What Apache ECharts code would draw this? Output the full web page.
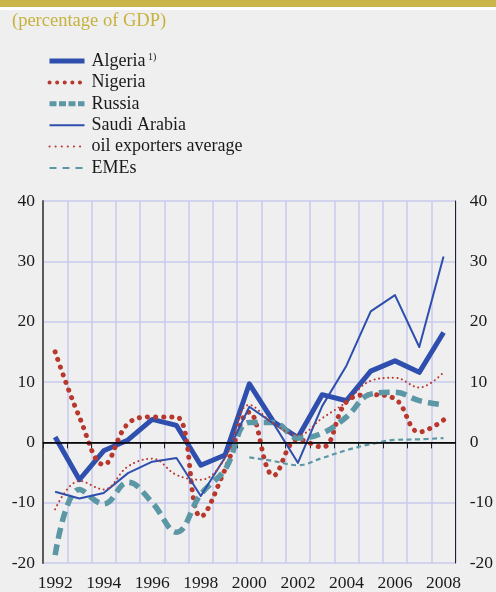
<!DOCTYPE html>
<html>
<head>
<meta charset="utf-8">
<script src="https://cdn.jsdelivr.net/npm/echarts@6/dist/echarts.min.js"></script>
<style>
  html, body { margin: 0; padding: 0; background: #efefef; }
  #chart { width: 496px; height: 592px; }
</style>
</head>
<body>
<div id="chart"></div>
<script>
const years = ['1992', '1993', '1994', '1995', '1996', '1997', '1998', '1999', '2000',
  '2001', '2002', '2003', '2004', '2005', '2006', '2007', '2008']

const algeria = [0.9, -6.2, -1.4, 0.4, 3.8, 2.8, -3.8, -2.1, 9.7, 3.4, 0.8, 7.9, 6.9, 11.8, 13.5, 11.6, 18.2]
const nigeria = [15.0, 4.2, -3.7, 3.1, 4.2, 4.2, -12.3, -4.5, 5.0, -5.5, 0.5, -0.8, 6.7, 7.9, 7.2, 1.7, 3.7]
const russia = [-18.7, -7.8, -10.2, -6.6, -10.0, -14.9, -8.6, -4.5, 3.3, 3.3, 0.7, 1.5, 4.2, 8.0, 8.3, 6.9, 6.2]
const saudi = [-8.2, -9.3, -8.4, -5.1, -3.2, -2.6, -8.9, -2.5, 5.9, 3.1, -3.4, 6.0, 12.7, 21.7, 24.4, 15.8, 30.8]
const oilAvg = [-11.1, -6.4, -7.8, -4.0, -2.7, -5.4, -6.2, -2.6, 6.2, 3.1, 1.2, 4.0, 6.7, 10.2, 10.7, 9.1, 11.6]
const emes = [null, null, null, null, null, null, null, null, -2.5, -3.1, -3.8, -2.6, -1.3, -0.3, 0.4, 0.5, 0.7]

const serif = "'Liberation Serif', 'Times New Roman', serif"
const blue = '#2e4fae'
const red = '#b8382e'
const teal = '#5b97a5'
const gridColor = '#c8cbee'

const chart = echarts.init(document.getElementById('chart'))

function line (name, data, color, width, type, smooth, cap) {
  return {
    name,
    type: 'line',
    data,
    symbol: 'none',
    smooth,
    connectNulls: false,
    lineStyle: { color, width, type, cap: cap || 'butt', join: 'round' },
    itemStyle: { color },
    z: 3
  }
}

// legend samples need their own widths, the default legend line is thinner
const legendItems = [
  { name: 'Algeria', lineStyle: { width: 5, type: 'solid' } },
  { name: 'Nigeria', lineStyle: { width: 4, type: [0.1, 7.5], cap: 'round' } },
  { name: 'Russia', lineStyle: { width: 5, type: [7, 2.5] } },
  { name: 'Saudi Arabia', lineStyle: { width: 2, type: 'solid' } },
  { name: 'oil exporters average', lineStyle: { width: 2, type: [0.1, 6], cap: 'round' } },
  { name: 'EMEs', lineStyle: { width: 2, type: [7, 6] } }
]

const option = {
  backgroundColor: '#efefef',
  animation: false,
  graphic: [
    { type: 'rect', left: 0, top: 0, shape: { width: 496, height: 7 }, style: { fill: '#c9b54a' } },
    { type: 'rect', left: 0, top: 7, shape: { width: 496, height: 3 }, style: { fill: '#ffffff' } },
    {
      type: 'text',
      left: 12,
      top: 12,
      style: { text: '(percentage of GDP)', fill: '#c6b23c', font: '18.5px ' + serif }
    }
  ],
  legend: {
    orient: 'vertical',
    left: 42,
    top: 47,
    itemWidth: 35,
    itemHeight: 14,
    itemGap: 3.4,
    selectedMode: false,
    itemStyle: { opacity: 0 },
    data: legendItems,
    formatter: name => name === 'Algeria' ? '{n|Algeria}{s| 1)}' : '{n|' + name + '}',
    textStyle: {
      padding: [0, 0, 0, 2],
      rich: {
        n: { fontFamily: serif, fontSize: 18, lineHeight: 18, color: '#1a1a1a' },
        s: { fontFamily: serif, fontSize: 10, color: '#1a1a1a', verticalAlign: 'top', padding: [0, 0, 8, 0] }
      }
    }
  },
  grid: { left: 43, right: 34, top: 201, bottom: 28 },
  xAxis: {
    type: 'category',
    data: years,
    boundaryGap: true,
    axisLine: { lineStyle: { color: '#222', width: 1 } },
    axisTick: { show: true, interval: 0, length: 6, lineStyle: { color: '#222' } },
    axisLabel: { interval: 1, fontFamily: serif, fontSize: 17.5, color: '#1a1a1a', margin: 11 },
    splitLine: { show: true, interval: 0, lineStyle: { color: gridColor, width: 1.5 } }
  },
  yAxis: [
    {
      type: 'value',
      min: -20,
      max: 40,
      interval: 10,
      axisLine: { show: true, lineStyle: { color: '#5a5a5a', width: 2 } },
      axisTick: { show: false },
      axisLabel: { fontFamily: serif, fontSize: 17.5, color: '#1a1a1a', margin: 8 },
      splitLine: { show: true, lineStyle: { color: gridColor, width: 1.5 } }
    },
    {
      type: 'value',
      min: -20,
      max: 40,
      interval: 10,
      position: 'right',
      axisLine: { show: true, lineStyle: { color: '#222', width: 1 } },
      axisTick: { show: false },
      axisLabel: { fontFamily: serif, fontSize: 17.5, color: '#1a1a1a', margin: 14 },
      splitLine: { show: false }
    }
  ],
  series: [
    {
      name: 'zero',
      type: 'line',
      data: [],
      z: 1,
      markLine: {
        silent: true,
        symbol: 'none',
        label: { show: false },
        lineStyle: { color: '#000', width: 1.5, type: 'solid' },
        data: [{ yAxis: 0 }]
      }
    },
    line('Algeria', algeria, blue, 5, 'solid', false),
    line('Nigeria', nigeria, red, 5, [0.1, 8], 0.4, 'round'),
    line('Russia', russia, teal, 5.5, [11, 6], 0.4),
    line('Saudi Arabia', saudi, blue, 2, 'solid', false),
    line('oil exporters average', oilAvg, red, 2, [0.1, 4.5], 0.4, 'round'),
    line('EMEs', emes, teal, 2.2, [5, 3.5], 0.4)
  ]
}

chart.setOption(option)
</script>
</body>
</html>
